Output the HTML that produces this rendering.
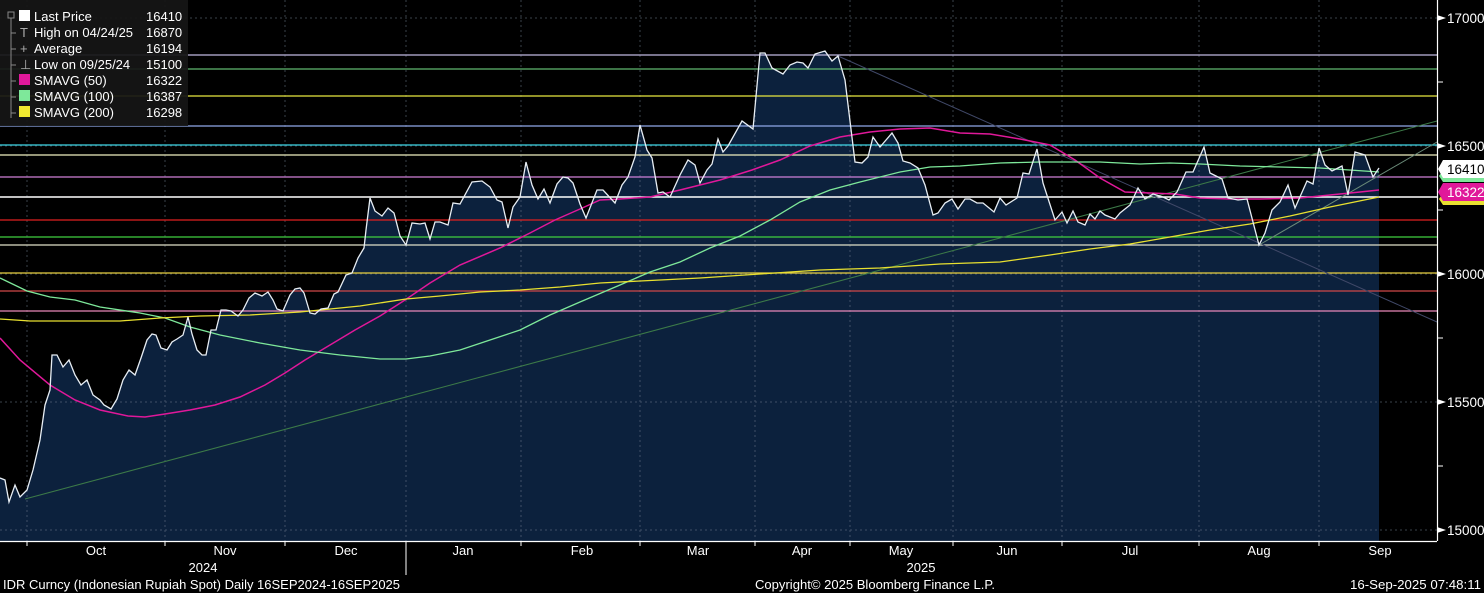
<!DOCTYPE html>
<html><head><meta charset="utf-8"><style>
html,body{margin:0;padding:0;background:#000;}
body{width:1484px;height:593px;overflow:hidden;position:relative;font-family:"Liberation Sans",Tahoma,sans-serif;}
svg{position:absolute;left:0;top:0;}
</style></head><body>
<svg width="1484" height="593" viewBox="0 0 1484 593" font-family="Liberation Sans, sans-serif">
<rect width="1484" height="593" fill="#000"/>
<path fill="#0c213d" d="M0,478 L5,480 L9,502 L15,485 L20,497 L27,490 L33,470 L40,440 L45,405 L50,390 L52,355 L57,355 L63,367 L69,360 L75,375 L81,385 L87,380 L93,395 L100,400 L104,405 L111,409 L117,399 L123,380 L129,370 L135,375 L141,358 L147,340 L152,334 L156,335 L161,348 L167,350 L172,342 L177,339 L183,335 L188,317 L192,334 L197,350 L202,355 L206,355 L211,330 L216,330 L221,310 L226,310 L231,311 L238,316 L243,310 L249,298 L255,293 L262,296 L268,292 L273,300 L277,309 L283,311 L290,295 L295,289 L300,288 L304,293 L310,313 L315,314 L321,309 L328,308 L334,294 L338,292 L346,275 L352,273 L358,258 L364,248 L366,230 L370,198 L375,211 L382,216 L388,208 L394,213 L400,236 L406,245 L412,223 L420,224 L425,223 L430,239 L435,222 L440,222 L448,225 L453,203 L460,204 L472,182 L482,181 L490,187 L497,200 L502,202 L508,228 L513,207 L520,197 L526,162 L532,185 L538,199 L544,189 L550,203 L557,184 L563,177 L568,178 L573,183 L580,204 L586,218 L597,190 L603,190 L615,203 L622,185 L628,177 L635,157 L640,125 L647,150 L652,158 L658,193 L663,192 L670,197 L680,175 L688,160 L695,165 L700,183 L707,170 L712,164 L718,139 L723,152 L728,146 L742,121 L753,129 L760,53 L765,53 L772,68 L783,74 L790,65 L797,62 L803,63 L808,68 L815,54 L825,51 L832,61 L838,56 L845,80 L855,162 L862,163 L868,157 L873,137 L880,147 L892,133 L898,143 L903,161 L910,163 L918,168 L925,185 L933,215 L938,213 L945,203 L952,199 L958,209 L965,199 L970,199 L977,203 L983,203 L994,212 L1000,198 L1006,205 L1017,198 L1023,173 L1029,174 L1037,149 L1043,183 L1055,220 L1062,212 L1067,223 L1073,211 L1078,222 L1085,225 L1090,214 L1095,219 L1100,211 L1105,215 L1115,219 L1120,213 L1130,205 L1138,188 L1145,199 L1153,194 L1163,197 L1169,200 L1177,192 L1186,172 L1193,172 L1204,147 L1210,173 L1222,179 L1228,198 L1238,200 L1247,199 L1259,245 L1265,233 L1272,210 L1280,202 L1288,185 L1295,208 L1307,181 L1313,184 L1319,148 L1325,165 L1332,171 L1342,166 L1348,195 L1355,152 L1365,155 L1373,177 L1379,168 L1379,541 L0,541 Z"/>
<g stroke="#6a7888" stroke-width="1" stroke-dasharray="2,3" opacity="0.55">
<line x1="27" y1="0" x2="27" y2="541"/><line x1="165" y1="0" x2="165" y2="541"/><line x1="285" y1="0" x2="285" y2="541"/><line x1="406" y1="0" x2="406" y2="541"/><line x1="521" y1="0" x2="521" y2="541"/><line x1="640" y1="0" x2="640" y2="541"/><line x1="755" y1="0" x2="755" y2="541"/><line x1="850" y1="0" x2="850" y2="541"/><line x1="953" y1="0" x2="953" y2="541"/><line x1="1062" y1="0" x2="1062" y2="541"/><line x1="1199" y1="0" x2="1199" y2="541"/><line x1="1319" y1="0" x2="1319" y2="541"/>
<line x1="0" y1="18" x2="1437" y2="18"/><line x1="0" y1="146" x2="1437" y2="146"/><line x1="0" y1="274" x2="1437" y2="274"/><line x1="0" y1="402" x2="1437" y2="402"/><line x1="0" y1="530" x2="1437" y2="530"/>
</g>
<g stroke-width="1.2">
<line x1="0" y1="55" x2="1437" y2="55" stroke="#c0b8e0"/>
<line x1="0" y1="69" x2="1437" y2="69" stroke="#60b870"/>
<line x1="0" y1="96" x2="1437" y2="96" stroke="#e8e840"/>
<line x1="0" y1="126" x2="1437" y2="126" stroke="#90a8e8"/>
<line x1="0" y1="145" x2="1437" y2="145" stroke="#40d8e8"/>
<line x1="0" y1="155" x2="1437" y2="155" stroke="#f0f0c0"/>
<line x1="0" y1="177" x2="1437" y2="177" stroke="#d080d8"/>
<line x1="0" y1="197" x2="1437" y2="197" stroke="#ffffff" stroke-width="1.6"/>
<line x1="0" y1="220" x2="1437" y2="220" stroke="#e02020"/>
<line x1="0" y1="237" x2="1437" y2="237" stroke="#40d040"/>
<line x1="0" y1="245" x2="1437" y2="245" stroke="#e0e0c8"/>
<line x1="0" y1="273" x2="1437" y2="273" stroke="#e8d040"/>
<line x1="0" y1="291" x2="1437" y2="291" stroke="#d04848"/>
<line x1="0" y1="311" x2="1437" y2="311" stroke="#e888b8"/>
</g>
<line x1="25" y1="499" x2="1437" y2="121" stroke="#3c7a48" stroke-width="1"/>
<line x1="838" y1="56" x2="1437" y2="322" stroke="#404868" stroke-width="1"/>
<line x1="1259" y1="245" x2="1437" y2="142" stroke="#6a8a78" stroke-width="1"/>
<polyline fill="none" stroke="#e0189a" stroke-width="1.5" points="0,338 20,360 50,385 75,400 100,410 128,416 145,417 165,414 190,410 215,405 240,397 265,385 285,373 305,360 330,345 355,330 380,316 405,300 430,283 460,265 500,248 530,233 555,220 580,209 600,200 620,199 650,197 680,190 720,180 752,170 780,160 810,146 840,137 870,132 900,129 930,128 960,133 990,134 1020,139 1050,145 1075,160 1100,178 1125,192 1150,193 1175,194 1200,198 1230,199 1260,199 1300,198 1330,195 1360,192 1379,190"/>
<polyline fill="none" stroke="#7ee89a" stroke-width="1.3" points="0,278 27,291 50,297 75,300 100,307 140,313 165,318 190,327 220,335 260,343 300,350 340,355 380,359 406,359 430,356 460,350 490,340 520,330 550,315 580,302 620,285 650,272 680,262 710,248 740,236 770,220 800,202 830,190 860,182 900,172 930,167 960,166 1000,163 1040,162 1070,162 1100,162 1140,164 1170,163 1200,164 1240,166 1280,167 1320,168 1379,172"/>
<polyline fill="none" stroke="#e8e030" stroke-width="1.3" points="0,319 30,321 70,321 120,321 160,318 200,316 250,315 300,312 360,306 406,299 440,296 480,292 520,290 560,287 600,283 640,281 700,278 760,274 820,270 880,268 940,264 1000,262 1050,255 1090,249 1130,244 1170,237 1210,230 1250,224 1290,216 1330,207 1379,197"/>
<polyline fill="none" stroke="#e8eef4" stroke-width="1.3" points="0,478 5,480 9,502 15,485 20,497 27,490 33,470 40,440 45,405 50,390 52,355 57,355 63,367 69,360 75,375 81,385 87,380 93,395 100,400 104,405 111,409 117,399 123,380 129,370 135,375 141,358 147,340 152,334 156,335 161,348 167,350 172,342 177,339 183,335 188,317 192,334 197,350 202,355 206,355 211,330 216,330 221,310 226,310 231,311 238,316 243,310 249,298 255,293 262,296 268,292 273,300 277,309 283,311 290,295 295,289 300,288 304,293 310,313 315,314 321,309 328,308 334,294 338,292 346,275 352,273 358,258 364,248 366,230 370,198 375,211 382,216 388,208 394,213 400,236 406,245 412,223 420,224 425,223 430,239 435,222 440,222 448,225 453,203 460,204 472,182 482,181 490,187 497,200 502,202 508,228 513,207 520,197 526,162 532,185 538,199 544,189 550,203 557,184 563,177 568,178 573,183 580,204 586,218 597,190 603,190 615,203 622,185 628,177 635,157 640,125 647,150 652,158 658,193 663,192 670,197 680,175 688,160 695,165 700,183 707,170 712,164 718,139 723,152 728,146 742,121 753,129 760,53 765,53 772,68 783,74 790,65 797,62 803,63 808,68 815,54 825,51 832,61 838,56 845,80 855,162 862,163 868,157 873,137 880,147 892,133 898,143 903,161 910,163 918,168 925,185 933,215 938,213 945,203 952,199 958,209 965,199 970,199 977,203 983,203 994,212 1000,198 1006,205 1017,198 1023,173 1029,174 1037,149 1043,183 1055,220 1062,212 1067,223 1073,211 1078,222 1085,225 1090,214 1095,219 1100,211 1105,215 1115,219 1120,213 1130,205 1138,188 1145,199 1153,194 1163,197 1169,200 1177,192 1186,172 1193,172 1204,147 1210,173 1222,179 1228,198 1238,200 1247,199 1259,245 1265,233 1272,210 1280,202 1288,185 1295,208 1307,181 1313,184 1319,148 1325,165 1332,171 1342,166 1348,195 1355,152 1365,155 1373,177 1379,168"/>
<rect x="1437" y="0" width="47" height="593" fill="#000"/>
<line x1="1437.5" y1="0" x2="1437.5" y2="541" stroke="#fff" stroke-width="1.2"/>
<line x1="0" y1="541.5" x2="1437" y2="541.5" stroke="#fff" stroke-width="1.2"/>
<g stroke="#fff" stroke-width="1">
<line x1="1437" y1="82" x2="1443" y2="82"/><line x1="1437" y1="210" x2="1443" y2="210"/><line x1="1437" y1="338" x2="1443" y2="338"/><line x1="1437" y1="466" x2="1443" y2="466"/>
<line x1="27" y1="541" x2="27" y2="546"/><line x1="165" y1="541" x2="165" y2="546"/><line x1="285" y1="541" x2="285" y2="546"/><line x1="521" y1="541" x2="521" y2="546"/><line x1="640" y1="541" x2="640" y2="546"/><line x1="755" y1="541" x2="755" y2="546"/><line x1="850" y1="541" x2="850" y2="546"/><line x1="953" y1="541" x2="953" y2="546"/><line x1="1062" y1="541" x2="1062" y2="546"/><line x1="1199" y1="541" x2="1199" y2="546"/><line x1="1319" y1="541" x2="1319" y2="546"/>
<line x1="406" y1="541" x2="406" y2="575"/>
</g>
<g fill="#fff">
<path d="M1437,15 L1446,18 L1437,21Z"/><path d="M1437,143 L1446,146 L1437,149Z"/><path d="M1437,271 L1446,274 L1437,277Z"/><path d="M1437,399 L1446,402 L1437,405Z"/><path d="M1437,527 L1446,530 L1437,533Z"/>
</g>
<g fill="#fff" font-size="13.5">
<text x="1447" y="23">17000</text><text x="1447" y="151">16500</text><text x="1447" y="279">16000</text><text x="1447" y="407">15500</text><text x="1447" y="535">15000</text>
</g>
<path d="M1443,170 L1484,170 L1484,182 L1443,182 L1439,176Z" fill="#7ee89a"/>
<path d="M1443,160 L1484,160 L1484,178 L1443,178 L1438,169Z" fill="#fff"/>
<text x="1447" y="174" font-size="13.5" fill="#000">16410</text>
<path d="M1443,193 L1484,193 L1484,205 L1443,205 L1439,199Z" fill="#e8e030"/>
<path d="M1443,183 L1484,183 L1484,201 L1443,201 L1438,192Z" fill="#e0189a"/>
<text x="1447" y="197" font-size="13.5" fill="#fff">16322</text>
<g fill="#fff" font-size="13" text-anchor="middle">
<text x="96" y="555">Oct</text><text x="225" y="555">Nov</text><text x="346" y="555">Dec</text><text x="463" y="555">Jan</text><text x="582" y="555">Feb</text><text x="698" y="555">Mar</text><text x="802" y="555">Apr</text><text x="901" y="555">May</text><text x="1007" y="555">Jun</text><text x="1130" y="555">Jul</text><text x="1259" y="555">Aug</text><text x="1380" y="555">Sep</text>
<text x="203" y="572">2024</text><text x="921" y="572">2025</text>
</g>
<g fill="#fff" font-size="13">
<text x="3" y="589" textLength="397" lengthAdjust="spacingAndGlyphs">IDR Curncy (Indonesian Rupiah Spot)  Daily 16SEP2024-16SEP2025</text>
<text x="755" y="589" textLength="240" lengthAdjust="spacingAndGlyphs">Copyright© 2025 Bloomberg Finance L.P.</text>
<text x="1350" y="589" textLength="131" lengthAdjust="spacingAndGlyphs">16-Sep-2025 07:48:11</text>
</g>
<rect x="0" y="0" width="188" height="126" fill="#161616" opacity="0.93"/>
<g stroke="#888" stroke-width="1" fill="none">
<rect x="8" y="12" width="6" height="6"/><line x1="11" y1="18" x2="11" y2="118"/>
<line x1="11" y1="33" x2="16" y2="33"/><line x1="11" y1="49" x2="16" y2="49"/><line x1="11" y1="65" x2="16" y2="65"/><line x1="11" y1="81" x2="16" y2="81"/><line x1="11" y1="97" x2="16" y2="97"/><line x1="11" y1="113" x2="16" y2="113"/>
</g>
<g fill="#fff" font-size="13">
<rect x="19" y="10" width="11" height="11" fill="#fff"/>
<text x="34" y="21">Last Price</text><text x="146" y="21">16410</text>
<text x="20" y="37" fill="#aaa">T</text><text x="34" y="37">High on 04/24/25</text><text x="146" y="37">16870</text>
<text x="20" y="53" fill="#aaa">+</text><text x="34" y="53">Average</text><text x="146" y="53">16194</text>
<text x="20" y="69" fill="#aaa">⊥</text><text x="34" y="69">Low on 09/25/24</text><text x="146" y="69">15100</text>
<rect x="19" y="74" width="11" height="11" fill="#e0189a"/><text x="34" y="85">SMAVG (50)</text><text x="146" y="85">16322</text>
<rect x="19" y="90" width="11" height="11" fill="#7ee89a"/><text x="34" y="101">SMAVG (100)</text><text x="146" y="101">16387</text>
<rect x="19" y="106" width="11" height="11" fill="#f0e830"/><text x="34" y="117">SMAVG (200)</text><text x="146" y="117">16298</text>
</g>
</svg>
</body></html>
